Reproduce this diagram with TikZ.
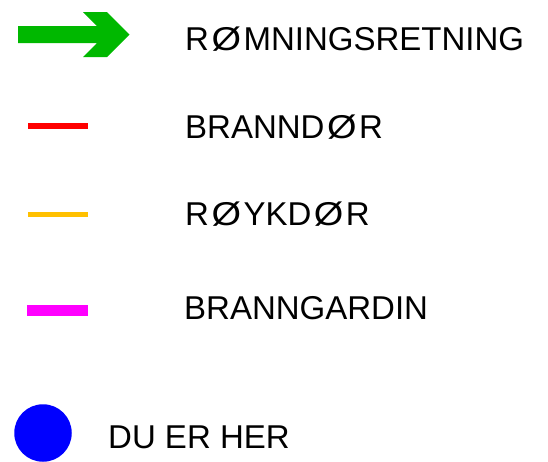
\documentclass[tikz,border=0pt]{standalone}
\usepackage{fontspec}
\setmainfont{Liberation Sans}
\usetikzlibrary{positioning}

\definecolor{escapegreen}{RGB}{0,184,0}
\definecolor{smokeyellow}{RGB}{255,192,0}
\definecolor{curtainpink}{RGB}{255,0,255}

% the slashed O sits a little wider in the sign
\newcommand{\wideO}{\kern2.5pt\scalebox{1.15}[1]{Ø}\kern2.5pt}

\begin{document}
\begin{tikzpicture}[x=1pt,y=-1pt,line cap=butt]

			\tikzstyle{every node}=[font=\fontsize{33}{40}\selectfont]

			\tikzstyle{legend text}=[inner sep=0pt,anchor=base west]
			\tikzstyle{fire door}=[draw=red,line width=6pt]
			\tikzstyle{smoke door}=[draw=smokeyellow,line width=5.5pt]
			\tikzstyle{fire curtain}=[draw=curtainpink,line width=11pt]
			\tikzstyle{here dot}=[circle,fill=blue,inner sep=0pt,minimum size=57.5pt]

			\useasboundingbox (0,0) rectangle (548,461);

			% escape arrow
			\fill[escapegreen] (18,26) -- (97,26) -- (83,12) -- (107,12) -- (129.5,34.5)
			  -- (107,57) -- (83,57) -- (97,43) -- (18,43) -- cycle;

			\coordinate (FD0) at (28,126);   \coordinate (FD1) at (88,126);
			\coordinate (SD0) at (28,214.5); \coordinate (SD1) at (88,214.5);
			\coordinate (FC0) at (27,310.5); \coordinate (FC1) at (88,310.5);

			\draw[fire door]    (FD0) -- (FD1);
			\draw[smoke door]   (SD0) -- (SD1);
			\draw[fire curtain] (FC0) -- (FC1);
			\node[here dot] (H) at (43,433) {};

			\node[legend text] (L0) at (185,50)  {R\wideO MNINGSRETNING};
			\node[legend text] (L1) at (185,138) {BRANND\wideO R};
			\node[legend text] (L2) at (185,225) {R\wideO YKD\wideO R};
			\node[legend text] (L3) at (184,319) {BRANNGARDIN};
			\node[legend text] (L4) at (108,448) {DU ER HER};

		\end{tikzpicture}
\end{document}
